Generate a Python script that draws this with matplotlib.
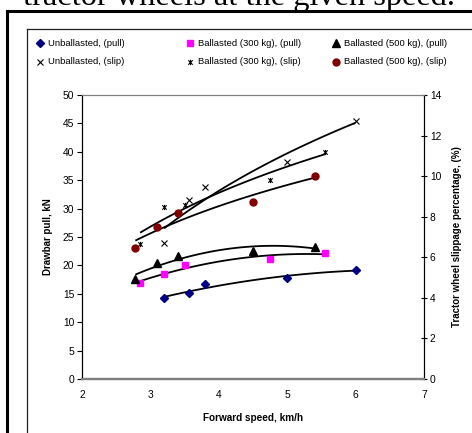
import numpy as np
import matplotlib
matplotlib.use("Agg")
import matplotlib.pyplot as plt
from matplotlib.lines import Line2D
from matplotlib.path import Path

plt.rcParams['font.family'] = ['Liberation Sans', 'DejaVu Sans']

W, H = 472, 433
DPI = 100

# Forward speed (km/h) for each tractor setup
speed_unballasted = [3.2, 3.57, 3.8, 5.0, 6.0]
speed_b300 = [2.85, 3.2, 3.5, 4.75, 5.55]
speed_b500 = [2.78, 3.1, 3.4, 4.5, 5.4]

# Drawbar pull, kN
pull_unballasted = [14.3, 15.1, 16.7, 17.8, 19.2]
pull_b300 = [16.9, 18.5, 20.1, 21.2, 22.2]
pull_b500 = [17.6, 20.5, 21.7, 22.5, 23.3]

# Wheel slippage, %
slip_unballasted = [6.72, 8.81, 9.45, 10.68, 12.70]
slip_b300 = [6.67, 8.49, 8.58, 9.82, 11.19]
slip_b500 = [6.46, 7.51, 8.2, 8.74, 10.0]

x_ticks = [2, 3, 4, 5, 6, 7]
pull_ticks = list(range(0, 51, 5))
slip_ticks = list(range(0, 15, 2))

legend_labels = [
    ["Unballasted, (pull)", "Ballasted (300 kg), (pull)", "Ballasted (500 kg), (pull)"],
    ["Unballasted, (slip)", "Ballasted (300 kg), (slip)", "Ballasted (500 kg), (slip)"],
]

# asterisk-style marker: an X with a vertical stroke
star_path = Path(
    [(-1, -1), (1, 1), (-1, 1), (1, -1), (0, -1.2), (0, 1.2)],
    [Path.MOVETO, Path.LINETO, Path.MOVETO, Path.LINETO, Path.MOVETO, Path.LINETO],
)

styles = {
    "u_pull": dict(marker="D", color="#000080", ms=4.2, mec="#000080"),
    "b300_pull": dict(marker="s", color="#FF00FF", ms=5.0, mec="#FF00FF"),
    "b500_pull": dict(marker="^", color="black", ms=5.4, mec="black"),
    "u_slip": dict(marker="x", color="black", ms=3.8, mew=0.8),
    "b300_slip": dict(marker=star_path, color="black", ms=3.8, mew=0.8),
    "b500_slip": dict(marker="o", color="#800000", ms=5.0, mec="#800000"),
}


def fx(px):
    return px / W


def fy(py):
    return 1 - py / H


fig = plt.figure(figsize=(W / DPI, H / DPI), dpi=DPI)
fig.patch.set_facecolor("white")

# heading text of the surrounding page, cut off at the top edge
fig.text(fx(23), fy(5.5), "tractor wheels at the given speed.",
         family="Liberation Serif", fontsize=23.3, va="baseline", ha="left")

# outer and inner chart frames
fig.add_artist(Line2D([fx(7), fx(7)], [fy(11), fy(H + 5)], color="black", lw=2.2))
fig.add_artist(Line2D([fx(7), fx(W + 5)], [fy(11), fy(11)], color="black", lw=2.2))
fig.add_artist(Line2D([fx(27), fx(27)], [fy(29), fy(H + 5)], color="#202020", lw=0.9))
fig.add_artist(Line2D([fx(27), fx(W + 5)], [fy(29), fy(29)], color="#202020", lw=0.9))

ax = fig.add_axes([fx(82), fy(379), (424 - 82) / W, (379 - 95) / H])
ax2 = ax.twinx()

ax.set_xlim(2, 7)
ax.set_ylim(0, 50)
ax2.set_ylim(0, 14)
ax.set_xticks(x_ticks)
ax.set_yticks(pull_ticks)
ax2.set_yticks(slip_ticks)

for a in (ax, ax2):
    a.spines["top"].set_color("#808080")
    a.spines["top"].set_linewidth(0.8)
    a.spines["bottom"].set_color("#808080")
    a.spines["bottom"].set_linewidth(1.6)
    a.spines["left"].set_color("black")
    a.spines["left"].set_linewidth(0.8)
    a.spines["right"].set_color("black")
    a.spines["right"].set_linewidth(0.8)

ax.tick_params(axis="x", length=0, pad=8, labelsize=7.4)
ax.tick_params(axis="y", direction="out", length=3.5, width=0.8, pad=2, labelsize=7.4)
ax2.tick_params(axis="y", direction="inout", length=4.5, width=0.8, pad=2, labelsize=7.4)

ax.set_xlabel("Forward speed, km/h", fontsize=7.2, fontweight="bold", labelpad=9)
ax.set_ylabel("Drawbar pull, kN", fontsize=7.0, fontweight="bold", labelpad=7)
ax2.set_ylabel("Tractor wheel slippage percentage, (%)", fontsize=7.0,
               fontweight="bold", labelpad=8)


def trend_poly(a, xs, ys):
    coef = np.polyfit(xs, ys, 2)
    xx = np.linspace(min(xs), max(xs), 100)
    a.plot(xx, np.polyval(coef, xx), color="black", lw=1.3, zorder=2,
           solid_capstyle="butt")


def trend_log(a, xs, ys):
    k, c = np.polyfit(np.log(xs), ys, 1)
    xx = np.linspace(min(xs), max(xs), 100)
    a.plot(xx, k * np.log(xx) + c, color="black", lw=1.3, zorder=2,
           solid_capstyle="butt")


series = [
    (ax, speed_unballasted, pull_unballasted, "u_pull", trend_poly),
    (ax, speed_b300, pull_b300, "b300_pull", trend_poly),
    (ax, speed_b500, pull_b500, "b500_pull", trend_poly),
    (ax2, speed_unballasted, slip_unballasted, "u_slip", trend_log),
    (ax2, speed_b300, slip_b300, "b300_slip", trend_log),
    (ax2, speed_b500, slip_b500, "b500_slip", trend_log),
]

for a, xs, ys, key, fit in series:
    fit(a, xs, ys)
for a, xs, ys, key, fit in series:
    a.plot(xs, ys, linestyle="none", zorder=3, clip_on=False, **styles[key])

# legend laid out in three fixed-width columns
col_marker_x = [40, 190, 336]
row_y = [43, 62]
keys = [["u_pull", "b300_pull", "b500_pull"], ["u_slip", "b300_slip", "b500_slip"]]
for r in range(2):
    for c in range(3):
        st = dict(styles[keys[r][c]])
        fig.add_artist(Line2D([fx(col_marker_x[c])], [fy(row_y[r])], linestyle="none", **st))
        fig.text(fx(col_marker_x[c] + 8), fy(row_y[r]), legend_labels[r][c],
                 fontsize=6.8, va="center", ha="left")

fig.savefig("out.png", dpi=DPI, facecolor="white")
